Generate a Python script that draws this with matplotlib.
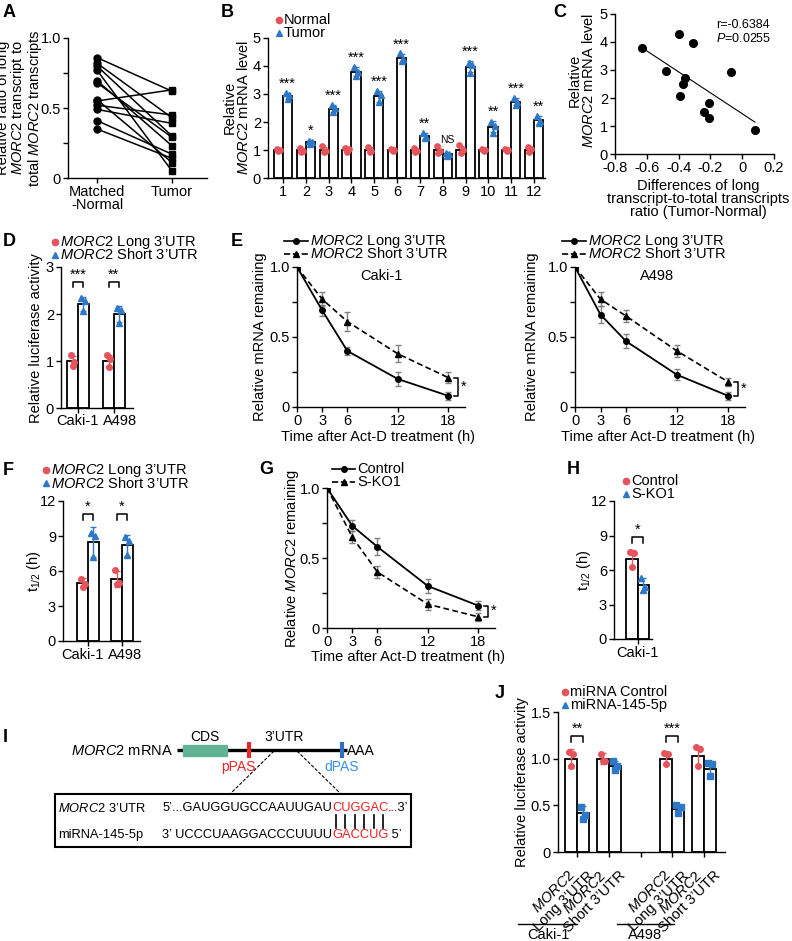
import numpy as np
import matplotlib
matplotlib.use('Agg')
import matplotlib.pyplot as plt
from matplotlib.patches import Rectangle

plt.rcParams['font.family'] = ['Liberation Sans', 'DejaVu Sans']
plt.rcParams['mathtext.fontset'] = 'custom'
plt.rcParams['mathtext.rm'] = 'Liberation Sans'
plt.rcParams['mathtext.it'] = 'Liberation Sans:italic'
plt.rcParams['mathtext.bf'] = 'Liberation Sans:bold'
plt.rcParams['font.size'] = 10.5
plt.rcParams['axes.linewidth'] = 1.0
for k in ['xtick', 'ytick']:
    plt.rcParams[k + '.major.width'] = 1.0
    plt.rcParams[k + '.minor.width'] = 1.0
    plt.rcParams[k + '.major.size'] = 3.5
    plt.rcParams[k + '.minor.size'] = 3.5
    plt.rcParams[k + '.major.pad'] = 1.5
    plt.rcParams[k + '.labelsize'] = 10.5

RED = '#E5535B'
BLUE = '#2E78C7'
GREY = '#808080'
M = r'$\mathit{MORC2}$'

# ---- data -------------------------------------------------------------
# A: ratio of long transcript, paired samples
A_normal = [0.86, 0.82, 0.80, 0.77, 0.695, 0.68, 0.56, 0.55, 0.52, 0.49, 0.41, 0.35]
A_tumor = [0.62, 0.43, 0.30, 0.05, 0.23, 0.29, 0.11, 0.63, 0.45, 0.39, 0.17, 0.14]

# B: relative MORC2 mRNA level, 12 patients
B_samples = list(range(1, 13))
B_normal = [1.0] * 12
B_normal_sd = [0.03, 0.07, 0.10, 0.07, 0.09, 0.03, 0.08, 0.13, 0.14, 0.03, 0.04, 0.09]
B_normal_pts = [[1.04, 1.00, 0.98], [1.07, 0.96, 0.92], [1.13, 0.95, 0.93], [1.07, 1.02, 0.92],
                [1.12, 0.97, 0.94], [1.04, 1.00, 0.98], [1.08, 0.97, 0.92], [1.15, 0.95, 0.88],
                [1.17, 1.00, 0.88], [1.03, 0.99, 0.97], [1.04, 1.00, 0.95], [1.10, 1.05, 0.92]]
B_tumor = [2.93, 1.28, 2.48, 3.80, 2.92, 4.28, 1.49, 0.85, 3.97, 1.83, 2.72, 2.07]
B_tumor_sd = [0.12, 0.06, 0.14, 0.15, 0.20, 0.14, 0.10, 0.04, 0.20, 0.19, 0.12, 0.14]
B_tumor_pts = [[3.05, 2.95, 2.82], [1.33, 1.27, 1.22], [2.62, 2.50, 2.35], [3.95, 3.78, 3.65],
               [3.12, 2.95, 2.72], [4.45, 4.25, 4.18], [1.60, 1.45, 1.43], [0.88, 0.85, 0.80],
               [4.12, 4.05, 3.75], [2.00, 1.85, 1.62], [2.85, 2.70, 2.62], [2.22, 2.05, 1.95]]
B_sig = ['***', '*', '***', '***', '***', '***', '**', 'NS', '***', '**', '***', '**']

# C: correlation
C_diff = [-0.63, -0.48, -0.40, -0.39, -0.37, -0.36, -0.31, -0.24, -0.21, -0.21, -0.07, 0.08]
C_level = [3.80, 2.95, 4.28, 2.08, 2.50, 2.72, 3.97, 1.50, 1.83, 1.28, 2.92, 0.85]

# D: luciferase, long vs short 3'UTR
cell_lines = ['Caki-1', 'A498']
D_long = [1.0, 1.0]
D_long_sd = [0.11, 0.12]
D_long_pts = [[1.12, 0.97, 0.90], [1.12, 1.05, 0.87]]
D_short = [2.22, 2.00]
D_short_sd = [0.15, 0.18]
D_short_pts = [[2.33, 2.27, 2.07], [2.12, 2.08, 1.80]]
D_sig = ['***', '**']

# E: mRNA decay
time_h = [0, 3, 6, 12, 18]
E_caki_long = [1.0, 0.69, 0.40, 0.20, 0.08]
E_caki_long_sd = [0.0, 0.04, 0.03, 0.05, 0.03]
E_caki_short = [1.0, 0.77, 0.61, 0.38, 0.21]
E_caki_short_sd = [0.0, 0.05, 0.07, 0.06, 0.04]
E_a498_long = [1.0, 0.66, 0.47, 0.23, 0.08]
E_a498_long_sd = [0.0, 0.06, 0.05, 0.04, 0.03]
E_a498_short = [1.0, 0.77, 0.65, 0.40, 0.18]
E_a498_short_sd = [0.0, 0.05, 0.04, 0.04, 0.03]

# F: half-life
F_long = [5.0, 5.3]
F_long_sd = [0.4, 0.7]
F_long_pts = [[5.3, 4.9, 4.6], [6.1, 5.0, 4.9]]
F_short = [8.5, 8.2]
F_short_sd = [1.3, 0.9]
F_short_pts = [[9.3, 9.0, 7.2], [8.9, 8.6, 7.4]]

# G: decay, control vs S-KO1
G_ctrl = [1.0, 0.73, 0.58, 0.30, 0.16]
G_ctrl_sd = [0.0, 0.04, 0.06, 0.05, 0.03]
G_ko = [1.0, 0.65, 0.40, 0.17, 0.08]
G_ko_sd = [0.0, 0.04, 0.04, 0.04, 0.03]

# H: half-life control vs S-KO1
H_vals = [7.0, 4.7]
H_sd = [0.7, 0.6]
H_pts = [[7.6, 7.45, 6.3], [5.3, 4.5, 4.3]]

# J: luciferase with miRNA-145-5p
J_ctrl = [1.0, 1.0, 1.0, 1.03]
J_ctrl_sd = [0.10, 0.06, 0.07, 0.11]
J_ctrl_pts = [[1.07, 1.05, 0.92], [1.05, 0.97, 0.97], [1.06, 1.05, 0.94], [1.12, 1.10, 0.92]]
J_mir = [0.42, 0.92, 0.46, 0.89]
J_mir_sd = [0.07, 0.05, 0.04, 0.08]
J_mir_pts = [[0.48, 0.40, 0.35], [0.97, 0.92, 0.88], [0.50, 0.48, 0.42], [0.95, 0.94, 0.81]]
J_pos = [1, 2, 4, 5]
J_sig = {0: '**', 2: '***'}

W, H = 792, 941
fig = plt.figure(figsize=(W / 100, H / 100), dpi=100)


def pax(l, t, r, b):
    ax = fig.add_axes([l / W, 1 - b / H, (r - l) / W, (b - t) / H])
    ax.spines['top'].set_visible(False)
    ax.spines['right'].set_visible(False)
    ax.patch.set_alpha(0)
    return ax


ov = fig.add_axes([0, 0, 1, 1], zorder=10)
ov.set_xlim(0, W)
ov.set_ylim(H, 0)
ov.axis('off')


def T(x, y, s, **kw):
    kw.setdefault('ha', 'center')
    kw.setdefault('va', 'center')
    return ov.text(x, y, s, **kw)


def letter(x, y, s):
    T(x, y, s, ha='left', fontsize=13, fontweight='bold')


def mk_legend(x, y, items, gap=13):
    for i, (mk, col, lab) in enumerate(items):
        ov.plot(x, y + i * gap, mk, color=col, ms=4.5, ls='none')
        T(x + 5, y + i * gap, lab, ha='left')


def line_legend(x0, x1, y, items, gap=12.5):
    for i, (mk, ls, lab) in enumerate(items):
        yy = y + i * gap
        ov.plot([x0, x1], [yy, yy], ls, color='k', lw=1.2)
        ov.plot((x0 + x1) / 2, yy, mk, color='k', ms=4)
        T(x1 + 2, yy, lab, ha='left')


def bar_group(ax, x, h, sd, pts, color, mk, w, ms=4):
    ax.bar(x, h, w, color='white', edgecolor='black', lw=1.3, zorder=1)
    ax.errorbar(x, h, yerr=sd, fmt='none', ecolor=color, elinewidth=1, capsize=2, capthick=1, zorder=3)
    offs = np.array([-0.18, 0.18, 0.0]) * w
    for xi, p in zip(x, pts):
        ax.plot(xi + offs, p, mk, color=color, ms=ms, ls='none', zorder=4)


def bracket(ax, x0, x1, y, h, s, fs=10.5):
    ax.plot([x0, x0, x1, x1], [y - h, y, y, y - h], color='k', lw=1.1, clip_on=False)
    ax.text((x0 + x1) / 2, y, s, ha='center', va='bottom', fontsize=fs)


def side_bracket(ax, x, y0, y1, w):
    ax.plot([x - w, x, x, x - w], [y0, y0, y1, y1], color='k', lw=1.1, clip_on=False)
    ax.text(x + 0.3, (y0 + y1) / 2, '*', ha='left', va='center', fontsize=10.5, clip_on=False)


# ---- A ---------------------------------------------------------------
axA = pax(68, 38, 207, 178)
for n, t in zip(A_normal, A_tumor):
    axA.plot([0, 1], [n, t], color='k', lw=1.1)
axA.plot([0] * len(A_normal), A_normal, 'o', color='k', ms=5)
axA.plot([1] * len(A_tumor), A_tumor, 's', color='k', ms=5)
axA.set_xlim(-0.387, 1.467)
axA.set_ylim(0, 1)
axA.set_xticks([0, 1])
axA.set_xticklabels(['Matched\n-Normal', 'Tumor'], linespacing=0.95)
axA.set_yticks([0, 0.5, 1.0])
axA.set_yticklabels(['0', '0.5', '1.0'])
axA.set_yticks([0.25, 0.75], minor=True)
T(20, 108, 'Relative ratio of long\n' + M + ' transcript to\ntotal ' + M + ' transcripts',
  rotation=90, linespacing=0.9)
letter(3, 12, 'A')

# ---- B ---------------------------------------------------------------
axB = pax(268, 38, 545, 178)
xb = np.array(B_samples)
bar_group(axB, xb - 0.2, B_normal, B_normal_sd, B_normal_pts, RED, 'o', 0.4, ms=3.8)
bar_group(axB, xb + 0.2, B_tumor, B_tumor_sd, B_tumor_pts, BLUE, '^', 0.4, ms=3.8)
for xi, v, sd, s in zip(xb, B_tumor, B_tumor_sd, B_sig):
    if s == 'NS':
        axB.text(xi + 0.2, v + sd + 0.3, s, ha='center', va='bottom', fontsize=7.5)
    else:
        axB.text(xi + 0.2, v + sd + 0.08, s, ha='center', va='bottom', fontsize=10.5)
axB.set_xlim(0.342, 12.48)
axB.set_ylim(0, 5)
axB.set_xticks(xb)
axB.set_yticks(range(6))
T(237, 107, 'Relative\n' + M + ' mRNA level', rotation=90, linespacing=0.92)
mk_legend(279, 20, [('o', RED, 'Normal'), ('^', BLUE, 'Tumor')])
letter(221, 12, 'B')

# ---- C ---------------------------------------------------------------
axC = pax(615, 14, 774, 154)
axC.plot(C_diff, C_level, 'o', color='k', ms=5.5)
slope, icpt = np.polyfit(C_diff, C_level, 1)
xr = np.array([min(C_diff), max(C_diff)])
axC.plot(xr, slope * xr + icpt, color='k', lw=0.8)
axC.set_xlim(-0.8, 0.2)
axC.set_ylim(0, 5)
axC.set_xticks([-0.8, -0.6, -0.4, -0.2, 0, 0.2])
axC.set_xticklabels(['-0.8', '-0.6', '-0.4', '-0.2', '0', '0.2'])
axC.set_yticks(range(6))
T(716, 25, 'r=-0.6384', ha='left', fontsize=9)
T(716, 38, r'$\mathit{P}$=0.0255', ha='left', fontsize=9)
T(582, 80, 'Relative\n' + M + ' mRNA level', rotation=90, linespacing=0.92)
T(698, 199, 'Differences of long\ntranscript-to-total transcripts\nratio (Tumor-Normal)', linespacing=0.95)
letter(553, 12, 'C')

# ---- D ---------------------------------------------------------------
axD = pax(61, 267, 133, 408)
xd = np.array([0, 1])
bar_group(axD, xd - 0.15, D_long, D_long_sd, D_long_pts, RED, 'o', 0.3)
bar_group(axD, xd + 0.15, D_short, D_short_sd, D_short_pts, BLUE, '^', 0.3)
for xi, s in zip(xd, D_sig):
    bracket(axD, xi - 0.15, xi + 0.15, 2.68, 0.1, s)
axD.set_xlim(-0.47, 1.53)
axD.set_ylim(0, 3)
axD.set_xticks(xd)
axD.set_xticklabels([])
axD.set_yticks(range(4))
T(77, 421, 'Caki-1')
T(120, 421, 'A498')
T(36, 338, 'Relative luciferase activity', rotation=90)
mk_legend(55, 242, [('o', RED, M + ' Long 3’UTR'), ('^', BLUE, M + ' Short 3’UTR')], gap=12.5)
letter(3, 241, 'D')


# ---- E ---------------------------------------------------------------
def decay(ax, a, ae, b, be):
    ax.errorbar(time_h, b, yerr=be, fmt='^', ls=(0, (3.5, 2)), color='k', ms=4, lw=1.2,
                ecolor=GREY, elinewidth=1, capsize=2, capthick=1)
    ax.errorbar(time_h, a, yerr=ae, fmt='o', ls='-', color='k', ms=4, lw=1.3,
                ecolor=GREY, elinewidth=1, capsize=2, capthick=1)
    ax.set_xlim(0, 20)
    ax.set_ylim(0, 1)
    ax.set_xticks(time_h)
    ax.set_yticks([0, 0.5, 1.0])
    ax.set_yticklabels(['0', '0.5', '1.0'])
    ax.set_yticks([0.25, 0.75], minor=True)


axE1 = pax(297, 267, 465, 407)
decay(axE1, E_caki_long, E_caki_long_sd, E_caki_short, E_caki_short_sd)
side_bracket(axE1, 19.2, E_caki_short[-1], E_caki_long[-1], 0.55)
axE2 = pax(575, 267, 745, 407)
decay(axE2, E_a498_long, E_a498_long_sd, E_a498_short, E_a498_short_sd)
side_bracket(axE2, 19.2, E_a498_short[-1], E_a498_long[-1], 0.55)
T(381, 276, 'Caki-1')
T(657, 276, 'A498')
for yl_x, xl_x in [(260, 378), (532, 658)]:
    T(yl_x, 337, 'Relative mRNA remaining', rotation=90)
    T(xl_x, 437, 'Time after Act-D treatment (h)')
for lx in [284, 562]:
    line_legend(lx, lx + 24, 241, [('o', '-', M + ' Long 3’UTR'), ('^', '--', M + ' Short 3’UTR')])
letter(231, 241, 'E')

# ---- F ---------------------------------------------------------------
axF = pax(63, 501, 140, 641)
bar_group(axF, xd - 0.16, F_long, F_long_sd, F_long_pts, RED, 'o', 0.32)
bar_group(axF, xd + 0.16, F_short, F_short_sd, F_short_pts, BLUE, '^', 0.32)
for xi in xd:
    bracket(axF, xi - 0.16, xi + 0.16, 10.9, 0.55, '*')
axF.set_xlim(-0.735, 1.53)
axF.set_ylim(0, 12)
axF.set_xticks(xd)
axF.set_xticklabels([])
axF.set_yticks([0, 3, 6, 9, 12])
T(82, 655, 'Caki-1')
T(125, 655, 'A498')
T(34, 571, r't$_{\mathrm{1/2}}$ (h)', rotation=90)
mk_legend(46, 470, [('o', RED, M + ' Long 3’UTR'), ('^', BLUE, M + ' Short 3’UTR')], gap=13)
letter(3, 470, 'F')

# ---- G ---------------------------------------------------------------
axG = pax(327, 488, 495, 628)
decay(axG, G_ctrl, G_ctrl_sd, G_ko, G_ko_sd)
side_bracket(axG, 19.2, G_ctrl[-1], G_ko[-1], 0.55)
T(292, 558, 'Relative ' + M + ' remaining', rotation=90)
T(408, 657, 'Time after Act-D treatment (h)')
line_legend(332, 355, 469, [('o', '-', 'Control'), ('^', '--', 'S-KO1')])
letter(259, 469, 'G')

# ---- H ---------------------------------------------------------------
axH = pax(614, 501, 652, 639)
xh = np.array([-0.24, 0.24])
for xi, v, sd, p, col, mk in zip(xh, H_vals, H_sd, H_pts, [RED, BLUE], ['o', '^']):
    bar_group(axH, [xi], [v], [sd], [p], col, mk, 0.48)
bracket(axH, xh[0], xh[1], 8.85, 0.5, '*')
axH.set_xlim(-0.99, 0.61)
axH.set_ylim(0, 12)
axH.set_xticks([0])
axH.set_xticklabels(['Caki-1'])
axH.set_yticks([0, 3, 6, 9, 12])
T(584, 570, r't$_{\mathrm{1/2}}$ (h)', rotation=90)
mk_legend(626, 481, [('o', RED, 'Control'), ('^', BLUE, 'S-KO1')])
letter(567, 469, 'H')

# ---- I (diagram) -----------------------------------------------------
letter(3, 737, 'I')
T(173, 751, M + ' mRNA', ha='right')
ov.plot([177, 347], [750, 750], color='k', lw=2.4, solid_capstyle='butt')
ov.add_patch(Rectangle((183, 745), 44, 11, color='#62B295', zorder=3))
ov.plot([249, 249], [742, 758], color='#E8262A', lw=3, solid_capstyle='butt')
ov.plot([342, 342], [742, 758], color='#2E6FBF', lw=3, solid_capstyle='butt')
T(205, 737, 'CDS', fontsize=10)
T(284, 737, '3’UTR', fontsize=10)
T(238, 767, 'pPAS', color='#E8262A', fontsize=10)
T(342, 767, 'dPAS', color='#3A8EE6', fontsize=10)
T(347, 751, 'AAA', ha='left', fontsize=10)
ov.plot([274, 230], [751, 794], color='k', lw=0.8, ls=(0, (3, 1.5)))
ov.plot([297, 341], [751, 794], color='k', lw=0.8, ls=(0, (3, 1.5)))
ov.add_patch(Rectangle((55, 794), 356, 53, fill=False, ec='k', lw=1.5))
SEQ = 9.3
T(58, 808, M + ' 3’UTR', ha='left', fontsize=SEQ)
T(332, 808, '5’...GAUGGUGCCAAUUGAU', ha='right', fontsize=SEQ)
T(332, 808, 'CUGGAC', ha='left', color='#EE2222', fontsize=SEQ)
T(388, 808, '...3’', ha='left', fontsize=SEQ)
T(58, 835, 'miRNA-145-5p', ha='left', fontsize=SEQ)
T(332, 835, '3’ UCCCUAAGGACCCUUUU', ha='right', fontsize=SEQ)
T(332, 835, 'GACCUG', ha='left', color='#EE2222', fontsize=SEQ)
T(388, 835, ' 5’', ha='left', fontsize=SEQ)
for px in np.linspace(336, 383, 6):
    ov.plot([px, px], [815, 828], color='k', lw=1.2)

# ---- J ---------------------------------------------------------------
axJ = pax(558, 712, 725, 852)
xj = np.array(J_pos, dtype=float)
bar_group(axJ, xj - 0.19, J_ctrl, J_ctrl_sd, J_ctrl_pts, RED, 'o', 0.38)
bar_group(axJ, xj + 0.19, J_mir, J_mir_sd, J_mir_pts, BLUE, 's', 0.38)
for i, s in J_sig.items():
    bracket(axJ, xj[i] - 0.19, xj[i] + 0.19, 1.24, 0.06, s)
axJ.set_xlim(0.40, 5.66)
axJ.set_ylim(0, 1.5)
axJ.set_yticks([0, 0.5, 1.0, 1.5])
axJ.set_yticklabels(['0', '0.5', '1.0', '1.5'])
axJ.set_xticks([1, 2, 3, 4, 5])
lab_long = M + '\nLong 3’UTR'
lab_short = M + '\nShort 3’UTR'
axJ.set_xticklabels([lab_long, lab_short, '', lab_long, lab_short], rotation=45, ha='right',
                    rotation_mode='anchor', multialignment='center', linespacing=0.95)
T(522, 782, 'Relative luciferase activity', rotation=90)
mk_legend(565, 692, [('o', RED, 'miRNA Control'), ('^', BLUE, 'miRNA-145-5p')])
ov.plot([518, 577], [924, 924], color='k', lw=1.0)
ov.plot([617, 674], [924, 924], color='k', lw=1.0)
T(548, 928, 'Caki-1', va='top')
T(645, 928, 'A498', va='top')
letter(495, 694, 'J')

fig.savefig('out.png', dpi=100)
